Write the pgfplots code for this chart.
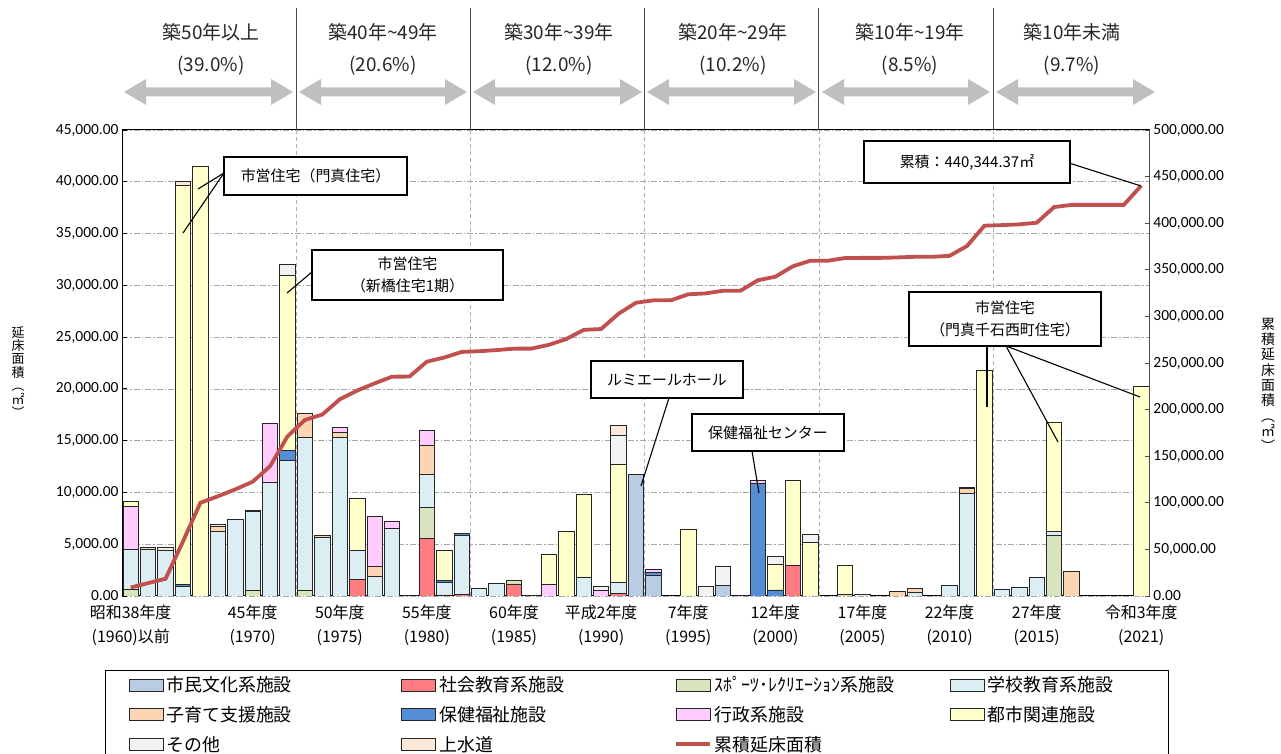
\documentclass[border=0pt]{standalone}
\usepackage{fontspec}
\setmainfont{Carlito}
\newfontfamily\cjk{Noto Sans CJK JP}
\usepackage{pgfplots}
\pgfplotsset{compat=1.18}
\usepackage{pgfplotstable}
\definecolor{cBunka}{HTML}{B8CCE4}
\definecolor{cShakai}{HTML}{FF7C80}
\definecolor{cSports}{HTML}{D7E4BD}
\definecolor{cSchool}{HTML}{DAEEF3}
\definecolor{cKoso}{HTML}{FCD5B5}
\definecolor{cHoken}{HTML}{558ED5}
\definecolor{cGyosei}{HTML}{FFCCFF}
\definecolor{cToshi}{HTML}{FFFFCC}
\definecolor{cOther}{HTML}{F2F2F2}
\definecolor{cSuido}{HTML}{FDE9D9}
\definecolor{cCum}{HTML}{C0504D}
\definecolor{cArrow}{HTML}{BFBFBF}

\pgfplotstableread{
x bunka shakai sports school koso hoken gyosei toshi other suido
0 0 0 650 3860 0 0 4180 410 0 0
1 0 0 0 4510 200 0 0 0 0 0
2 0 0 0 4450 0 0 0 0 0 250
3 0 0 0 960 0 150 0 38560 0 390
4 0 0 0 0 0 0 0 41440 0 0
5 0 0 0 6270 420 0 0 0 0 260
6 0 0 0 7400 0 0 0 0 0 0
7 0 0 580 7560 120 0 0 0 0 0
8 0 0 0 10980 0 0 5690 0 0 0
9 0 0 0 13060 0 1030 0 16830 1060 0
10 0 0 580 14700 2350 0 0 0 0 0
11 0 0 0 5630 200 0 0 0 0 0
12 0 0 0 15280 480 0 520 0 0 0
13 0 1610 0 2830 0 0 0 4990 0 0
14 0 0 0 1870 960 0 4890 0 0 0
15 0 0 0 6530 0 0 640 0 0 0
16 0 0 0 0 0 0 0 0 100 0
17 0 5570 2990 3190 2830 0 1440 0 0 0
18 0 100 0 1250 0 130 0 2960 0 0
19 0 150 0 5740 0 110 0 0 0 0
20 0 0 0 740 0 0 0 0 0 0
21 0 0 0 1220 0 0 0 0 0 0
22 0 1160 380 0 0 0 0 0 0 0
23 0 0 0 0 0 0 0 0 50 0
24 0 0 0 0 0 0 1160 2890 0 0
25 0 0 0 0 0 0 0 6270 0 0
26 0 0 0 1800 0 0 0 7980 0 0
27 0 0 0 0 0 0 580 0 320 0
28 0 260 0 1060 0 0 0 11390 2830 900
29 11780 0 0 0 0 0 0 0 0 0
30 2030 0 0 0 0 250 300 0 0 0
31 0 0 0 0 0 0 0 0 0 0
32 0 0 0 0 0 0 0 6470 0 0
33 0 0 0 0 0 0 0 0 970 0
34 1000 0 0 0 0 0 0 0 1830 0
35 0 0 0 0 0 0 0 0 80 0
36 0 0 0 0 0 10870 330 0 0 0
37 0 0 0 0 0 580 0 2480 740 0
38 0 2990 0 0 0 0 0 8140 0 0
39 0 0 0 0 0 0 0 5180 800 0
40 0 0 0 0 0 0 0 0 0 0
41 0 0 0 0 150 0 0 2780 0 0
42 0 0 0 0 0 0 0 0 150 0
43 0 0 0 0 0 0 0 0 0 0
44 0 0 0 0 480 0 0 0 0 0
45 0 0 0 350 350 0 0 0 0 0
46 0 0 0 0 0 0 0 0 0 0
47 0 0 0 1030 0 0 0 0 0 0
48 0 0 0 9910 490 120 0 0 0 0
49 0 0 0 0 0 0 0 21810 0 0
50 0 0 0 610 0 0 0 0 0 0
51 0 0 0 800 0 0 0 0 0 0
52 0 0 0 1800 0 0 0 0 0 0
53 0 0 5890 380 0 0 0 10500 0 0
54 0 0 0 0 2350 0 0 0 0 0
55 0 0 0 0 0 0 0 0 0 0
56 0 0 0 0 0 0 0 0 0 0
57 0 0 0 0 0 0 0 0 0 0
58 0 0 0 0 0 0 0 20270 0 0
}\bars

\pgfplotstableread{
x cum
0 9100
1 13810
2 18510
3 58570
4 100010
5 106960
6 114360
7 122620
8 139290
9 171270
10 188900
11 194730
12 211010
13 220440
14 228160
15 235330
16 235430
17 251450
18 255890
19 261890
20 262630
21 263850
22 265390
23 265440
24 269490
25 275760
26 285540
27 286440
28 302880
29 314660
30 317240
31 317240
32 323710
33 324680
34 327510
35 327590
36 338790
37 342590
38 353720
39 359700
40 359700
41 362630
42 362780
43 362780
44 363260
45 363960
46 363960
47 364990
48 375510
49 397320
50 397930
51 398730
52 400530
53 417300
54 419650
55 419650
56 419650
57 419650
58 440344
}\cumtab

\pgfplotsset{
  mybar/.style={fill=#1, draw=black!85, line width=0.8bp},
  mybarlegend/.style={legend image code/.code={\draw[##1, draw=black!85, line width=0.8bp] (0bp,-6bp) rectangle (34bp,6bp);}},
  mylinelegend/.style={legend image code/.code={\draw[##1] (0bp,0bp) -- (34bp,0bp);}},
}

\begin{document}
\begin{tikzpicture}
\useasboundingbox (0,0) rectangle (1281bp,754bp);
\begin{axis}[
  at={(122bp,158bp)}, anchor=south west, scale only axis,
  width=1028bp, height=466bp,
  xmin=-0.5, xmax=58.5, ymin=0, ymax=45000,
  ybar stacked, bar width=15.4bp,
  axis line style={black, line width=1bp},
  ytick distance=5000, scaled y ticks=false,
  ymajorgrids,
  major grid style={gray!70, dash pattern=on 6bp off 2bp on 1.5bp off 2bp, line width=0.6bp},
  xtick={0,7,12,17,22,27,32,37,42,47,52,58},
  xticklabels={{昭和38年度\\(1960)以前},{45年度\\(1970)},{50年度\\(1975)},{55年度\\(1980)},{60年度\\(1985)},{平成2年度\\(1990)},{7年度\\(1995)},{12年度\\(2000)},{17年度\\(2005)},{22年度\\(2010)},{27年度\\(2015)},{令和3年度\\(2021)}},
  xticklabel style={align=center, font=\cjk\fontsize{16}{24}\selectfont, yshift=-6bp},
  x tick style={draw=none},
  extra x ticks={9.5,19.5,29.5,39.5,49.5}, extra x tick labels={},
  extra x tick style={grid=major, major grid style={gray!60, dash pattern=on 4bp off 3bp, line width=0.6bp}, tick style={draw=none}},
  y tick style={black, line width=0.8bp}, tick align=inside, major tick length=5bp,
  ytick pos=left,
  yticklabel style={font=\fontsize{15.5}{18}\selectfont},
  yticklabel={\pgfmathprintnumber[fixed, fixed zerofill, precision=2, 1000 sep={,}, assume math mode=true]{\tick}},
]
\addplot[mybar=cBunka] table[x=x,y=bunka]{\bars};
\addplot[mybar=cShakai] table[x=x,y=shakai]{\bars};
\addplot[mybar=cSports] table[x=x,y=sports]{\bars};
\addplot[mybar=cSchool] table[x=x,y=school]{\bars};
\addplot[mybar=cKoso] table[x=x,y=koso]{\bars};
\addplot[mybar=cHoken] table[x=x,y=hoken]{\bars};
\addplot[mybar=cGyosei] table[x=x,y=gyosei]{\bars};
\addplot[mybar=cToshi] table[x=x,y=toshi]{\bars};
\addplot[mybar=cOther] table[x=x,y=other]{\bars};
\addplot[mybar=cSuido] table[x=x,y=suido]{\bars};
\end{axis}
\begin{axis}[
  at={(122bp,158bp)}, anchor=south west, scale only axis,
  width=1028bp, height=466bp,
  xmin=-0.5, xmax=58.5, ymin=0, ymax=500000,
  axis x line=none, axis y line*=right,
  axis line style={black!70, line width=1bp},
  ytick distance=50000, scaled y ticks=false,
  y tick style={black!70, line width=0.8bp}, tick align=inside, major tick length=5bp,
  yticklabel style={font=\fontsize{15.5}{18}\selectfont},
  yticklabel={\pgfmathprintnumber[fixed, fixed zerofill, precision=2, 1000 sep={,}, assume math mode=true]{\tick}},
  legend columns=4, legend cell align=left,
  legend style={at={(-0.0165,-0.159)}, anchor=north west, draw=black, line width=1bp,
    font=\cjk\fontsize{18}{21}\selectfont, inner xsep=23bp, inner ysep=4bp,
    row sep=9bp, column sep=0bp,
    /tikz/every even column/.append style={column sep=77bp},
    nodes={text width=155bp, align=left, inner xsep=3bp, inner ysep=2bp}},
]
\addlegendimage{mybarlegend, fill=cBunka}
\addlegendentry{市民文化系施設}
\addlegendimage{mybarlegend, fill=cShakai}
\addlegendentry{社会教育系施設}
\addlegendimage{mybarlegend, fill=cSports}
\addlegendentry{ｽﾎﾟｰﾂ･ﾚｸﾘｴｰｼｮﾝ系施設}
\addlegendimage{mybarlegend, fill=cSchool}
\addlegendentry{学校教育系施設}
\addlegendimage{mybarlegend, fill=cKoso}
\addlegendentry{子育て支援施設}
\addlegendimage{mybarlegend, fill=cHoken}
\addlegendentry{保健福祉施設}
\addlegendimage{mybarlegend, fill=cGyosei}
\addlegendentry{行政系施設}
\addlegendimage{mybarlegend, fill=cToshi}
\addlegendentry{都市関連施設}
\addlegendimage{mybarlegend, fill=cOther}
\addlegendentry{その他}
\addlegendimage{mybarlegend, fill=cSuido}
\addlegendentry{上水道}
\addplot[cCum, line width=3.8bp, mark=none, mylinelegend] table[x=x,y=cum]{\cumtab};
\addlegendentry{累積延床面積}
\end{axis}

\begin{scope}[x=1bp, y=-1bp, yshift=754bp]
% era separators above the plot
\foreach \xx in {296.2,470.4,644.6,818.8,993.0}
  \draw[black!70, line width=0.9bp] (\xx,8) -- (\xx,130);
% double arrows
\foreach \a/\b in {124/293, 299/467, 473/642, 647/816, 822/990, 996/1155}
  \fill[cArrow] (\a,92) -- (\a+22,79) -- (\a+22,87.5) -- (\b-22,87.5) -- (\b-22,79) -- (\b,92)
     -- (\b-22,105) -- (\b-22,96.5) -- (\a+22,96.5) -- (\a+22,105) -- cycle;
% era labels
\begin{scope}[every node/.style={font=\cjk\fontsize{19}{22}\selectfont, text=black!85}]
\node at (211,32) {築50年以上};
\node at (211,66) {(39.0\%)};
\node at (383,32) {築40年\textasciitilde49年};
\node at (383,66) {(20.6\%)};
\node at (559,32) {築30年\textasciitilde39年};
\node at (559,66) {(12.0\%)};
\node at (733,32) {築20年\textasciitilde29年};
\node at (733,66) {(10.2\%)};
\node at (910,32) {築10年\textasciitilde19年};
\node at (910,66) {(8.5\%)};
\node at (1072,32) {築10年未満};
\node at (1072,66) {(9.7\%)};
\end{scope}
% axis titles
\node[font=\cjk\fontsize{13}{13.5}\selectfont, align=center] at (18,372) {延\\床\\面\\積\\︵\\㎡\\︶};
\node[font=\cjk\fontsize{14}{15.4}\selectfont, align=center] at (1268,385) {累\\積\\延\\床\\面\\積\\︵\\㎡\\︶};
% annotations
\begin{scope}[every node/.style={font=\cjk\fontsize{15}{22}\selectfont, align=center}]
\draw[black, line width=1.1bp] (224,173) -- (198,189);
\draw[black, line width=1.1bp] (224,173) -- (183,233);
\draw[black, line width=1.3bp, fill=white] (224,157) rectangle (407,195);
\node at (315.5,176) {市営住宅（門真住宅）};
\draw[black, line width=1.1bp] (312,272) -- (287,293);
\draw[black, line width=1.3bp, fill=white] (312,250) rectangle (503,300);
\node at (407.5,275) {市営住宅\\（新橋住宅1期）};
\draw[black, line width=1.1bp] (669,398) -- (641,486);
\draw[black, line width=1.3bp, fill=white] (591,361) rectangle (743,398);
\node at (667,379.5) {ルミエールホール};
\draw[black, line width=1.1bp] (752,451) -- (759,493);
\draw[black, line width=1.3bp, fill=white] (692,414) rectangle (844,451);
\node at (768,432.5) {保健福祉センター};
\draw[black, line width=1.1bp] (987,346) -- (987,407);
\draw[black, line width=1.1bp] (1006,346) -- (1058,442);
\draw[black, line width=1.1bp] (1006,346) -- (1140,397);
\draw[black, line width=1.3bp, fill=white] (909,292) rectangle (1101,346);
\node at (1005,319) {市営住宅\\（門真千石西町住宅）};
\draw[black, line width=1.1bp] (1069,163) -- (1141,186);
\draw[black, line width=1.3bp, fill=white] (864,141) rectangle (1070,183);
\node at (967,162) {累積：440,344.37㎡};
\end{scope}
\end{scope}
\end{tikzpicture}
\end{document}
